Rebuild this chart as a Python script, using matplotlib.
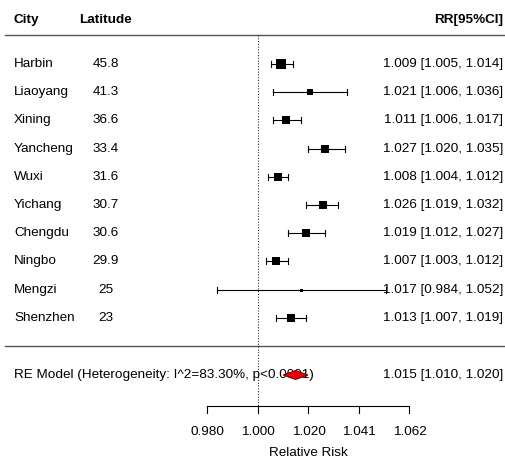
import numpy as np
import matplotlib
matplotlib.use("Agg")
import matplotlib.pyplot as plt
from matplotlib.patches import Polygon

plt.rcParams['font.family'] = ['Liberation Sans', 'DejaVu Sans']

cities = ["Harbin", "Liaoyang", "Xining", "Yancheng", "Wuxi",
          "Yichang", "Chengdu", "Ningbo", "Mengzi", "Shenzhen"]
latitude = ["45.8", "41.3", "36.6", "33.4", "31.6", "30.7", "30.6", "29.9", "25", "23"]
rr = [1.009, 1.021, 1.011, 1.027, 1.008, 1.026, 1.019, 1.007, 1.017, 1.013]
lo = [1.005, 1.006, 1.006, 1.020, 1.004, 1.019, 1.012, 1.003, 0.984, 1.007]
hi = [1.014, 1.036, 1.017, 1.035, 1.012, 1.032, 1.027, 1.012, 1.052, 1.019]
weights = [11.9, 4.8, 10.9, 11.2, 10.9, 11.2, 10.4, 11.2, 1.3, 10.2]
re_est, re_lo, re_hi = 1.015, 1.010, 1.020
re_label = "RE Model (Heterogeneity: I^2=83.30%, p<0.0001)"
ticks = [-0.02, 0.0, 0.02, 0.04, 0.06]

W, H = 506, 459
scale = 2525.0          # pixels per log unit
x0 = 258.0              # pixel of log(RR)=0

def px(x):
    return (x - x0) / scale

fig = plt.figure(figsize=(W / 100, H / 100), dpi=100)
ax = fig.add_axes([0, 0, 1, 1])
ax.set_xlim(px(0), px(W))
ax.set_ylim(H, 0)
ax.axis('off')

fs = 9.7
rows = 64 + np.arange(len(cities)) * 28.2

# headers
ax.text(px(14), 20, "City", fontsize=fs, fontweight='bold', va='center')
ax.text(px(106), 20, "Latitude", fontsize=fs, fontweight='bold', va='center', ha='center')
ax.text(px(503), 20, "RR[95%CI]", fontsize=fs, fontweight='bold', va='center', ha='right')
ax.plot([px(5), px(W)], [35, 35], color='#555555', lw=1)
ax.plot([px(5), px(W)], [346, 346], color='#555555', lw=1)

# reference line
ax.plot([0, 0], [35, 408], color='#333333', lw=0.8, ls=(0, (1, 1.5)))

w = np.array(weights)
sizes = 3 + (w - w.min()) / (w.max() - w.min()) * 6.3   # pixels
for i, y in enumerate(rows):
    l, h, e = np.log(lo[i]), np.log(hi[i]), np.log(rr[i])
    ax.plot([l, h], [y, y], color='black', lw=0.8)
    ax.plot([l, l], [y - 3, y + 3], color='black', lw=0.8)
    ax.plot([h, h], [y - 3, y + 3], color='black', lw=0.8)
    ax.plot(e, y, marker='s', color='black', ms=sizes[i] * 0.72, mew=0)
    ax.text(px(14), y, cities[i], fontsize=fs, va='center')
    ax.text(px(106), y, latitude[i], fontsize=fs, va='center', ha='center')
    ax.text(px(503), y, f"{rr[i]:.3f} [{lo[i]:.3f}, {hi[i]:.3f}]",
            fontsize=fs, va='center', ha='right')

# summary
ry = 375
ax.text(px(14), ry, re_label, fontsize=fs, va='center')
ax.add_patch(Polygon([(np.log(re_lo), ry), (np.log(re_est), ry - 4.5),
                      (np.log(re_hi), ry), (np.log(re_est), ry + 4.5)],
                     closed=True, facecolor='#e8000b', edgecolor='#6b0000', lw=0.7, zorder=5))
ax.text(px(503), ry, f"{re_est:.3f} [{re_lo:.3f}, {re_hi:.3f}]",
        fontsize=fs, va='center', ha='right')

# x axis
ay = 406
ax.plot([ticks[0], ticks[-1]], [ay, ay], color='black', lw=0.8)
for t in ticks:
    ax.plot([t, t], [ay, ay + 7], color='black', lw=0.8)
    ax.text(t, 432, f"{np.exp(t):.3f}", fontsize=fs, ha='center', va='center')
ax.text((ticks[0] + ticks[-1]) / 2, 453, "Relative Risk", fontsize=fs, ha='center', va='center')

fig.savefig("out.png", dpi=100)
